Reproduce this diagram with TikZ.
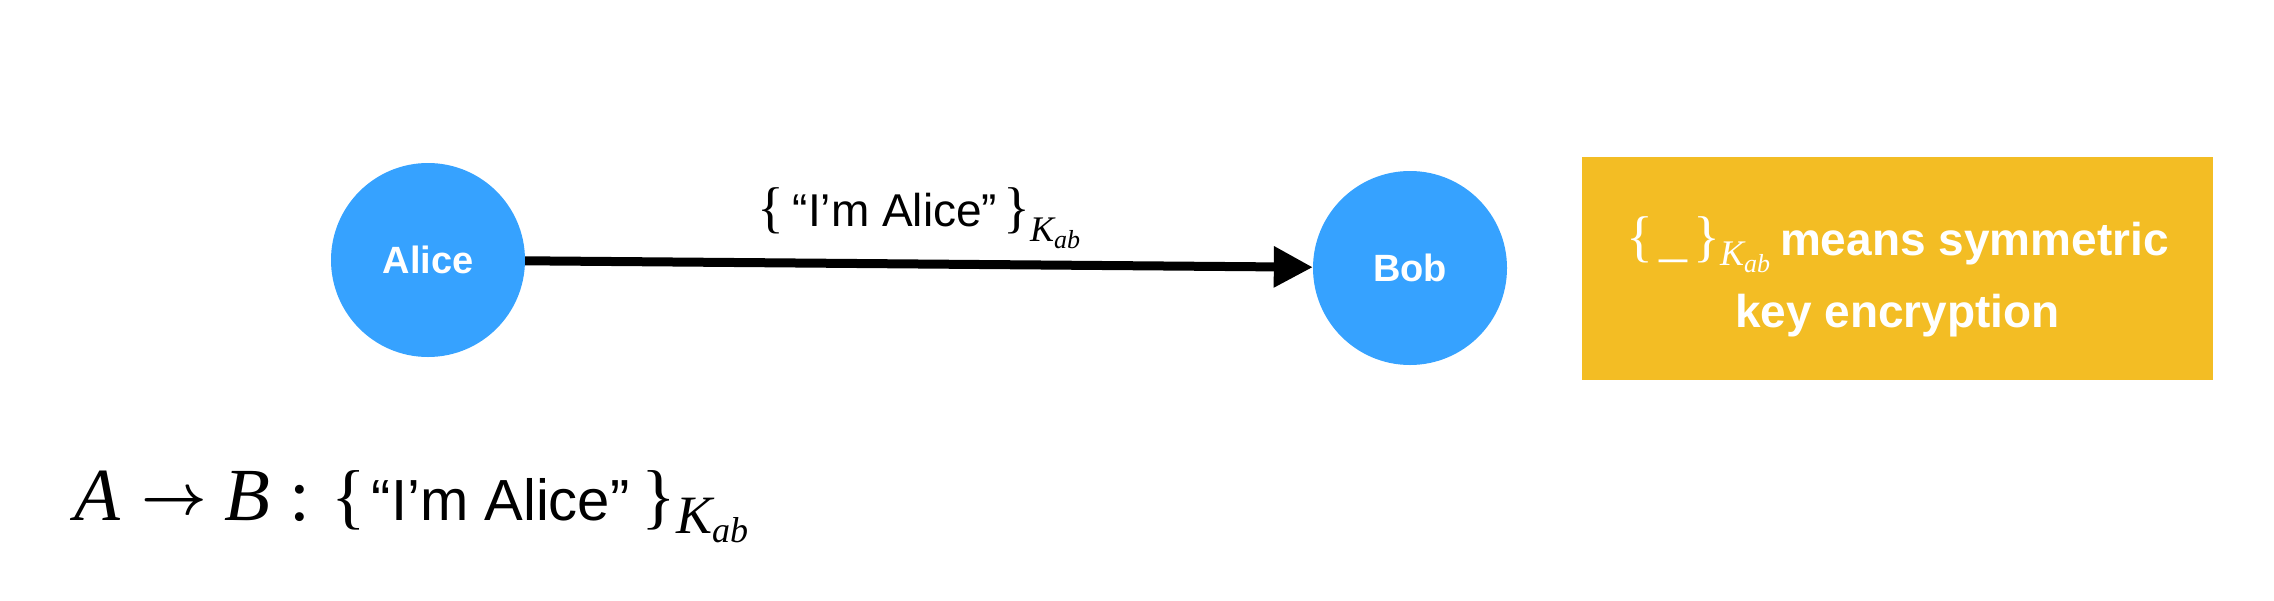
\documentclass[tikz,border=0pt]{standalone}
\usepackage{graphicx}
\usepackage{fontspec}
\setmainfont{Liberation Sans}
\newfontfamily\timesfont{Liberation Serif}
\usetikzlibrary{arrows.meta}

\definecolor{partyblue}{RGB}{54,162,255}
\definecolor{keyyellow}{RGB}{243,189,36}
\newcommand{\sized}[1]{\fontsize{#1}{#1}\selectfont}

\begin{document}
\begin{tikzpicture}[x=1pt, y=-1pt,
    party/.style={circle, fill=partyblue, minimum size=194pt, inner sep=0pt,
        text=white, font=\bfseries\sized{38}},
    msg/.style={line width=9pt, -{Triangle[length=39pt, width=39pt]}},
    legendbox/.style={fill=keyyellow, minimum width=631pt, minimum height=223pt,
        inner sep=0pt},
    legendtext/.style={inner sep=0pt, text=white, align=center,
        font=\fontsize{46}{72}\selectfont\bfseries}]
    \useasboundingbox (0,0) rectangle (2274,600);

    \node[party] (alice) at (428,260) {Alice};
    \node[party] (bob) at (1410,268) {Bob};

    \draw[msg] (alice) -- node[anchor=base, yshift=38pt, inner sep=0pt, font=\sized{46}] (label)
        {{\timesfont\sized{56}\{}\hspace{8pt}“I’m Alice”\hspace{6pt}{\timesfont\sized{56}\}}\raisebox{-15pt}{\timesfont\itshape\sized{36}K\raisebox{-7pt}{\sized{26}ab}}} (bob);

    \node[legendbox] (legend) at (1897.5,268.5) {};
    \node[legendtext] (legendtext) at ([yshift=-8pt]legend.center)
        {{\timesfont\mdseries\sized{56}\{\hspace{6pt}\_\hspace{6pt}\}}\raisebox{-10pt}{\timesfont\mdseries\itshape\sized{36}K\raisebox{-7pt}{\sized{26}ab}}\hspace{10pt}means symmetric\\
         key encryption};

    % A -> B : {"I'm Alice"}_Kab
    \node[anchor=base west, inner sep=0pt] (proto) at (74,520)
        {{\timesfont\itshape\sized{75}A}\hspace{21pt}\raisebox{6pt}{\boldmath\scalebox{5.7}{$\rightarrow$}}\hspace{18pt}{\timesfont\itshape\sized{75}B}\hspace{19pt}{\timesfont\sized{75}:}\hspace{21pt}{\timesfont\sized{72}\{}\hspace{6pt}{\sized{58}“I’m Alice”}\hspace{12pt}{\timesfont\sized{72}\}}\raisebox{-13pt}{\timesfont\itshape\sized{54}K\raisebox{-9pt}{\sized{36}ab}}};
\end{tikzpicture}
\end{document}
